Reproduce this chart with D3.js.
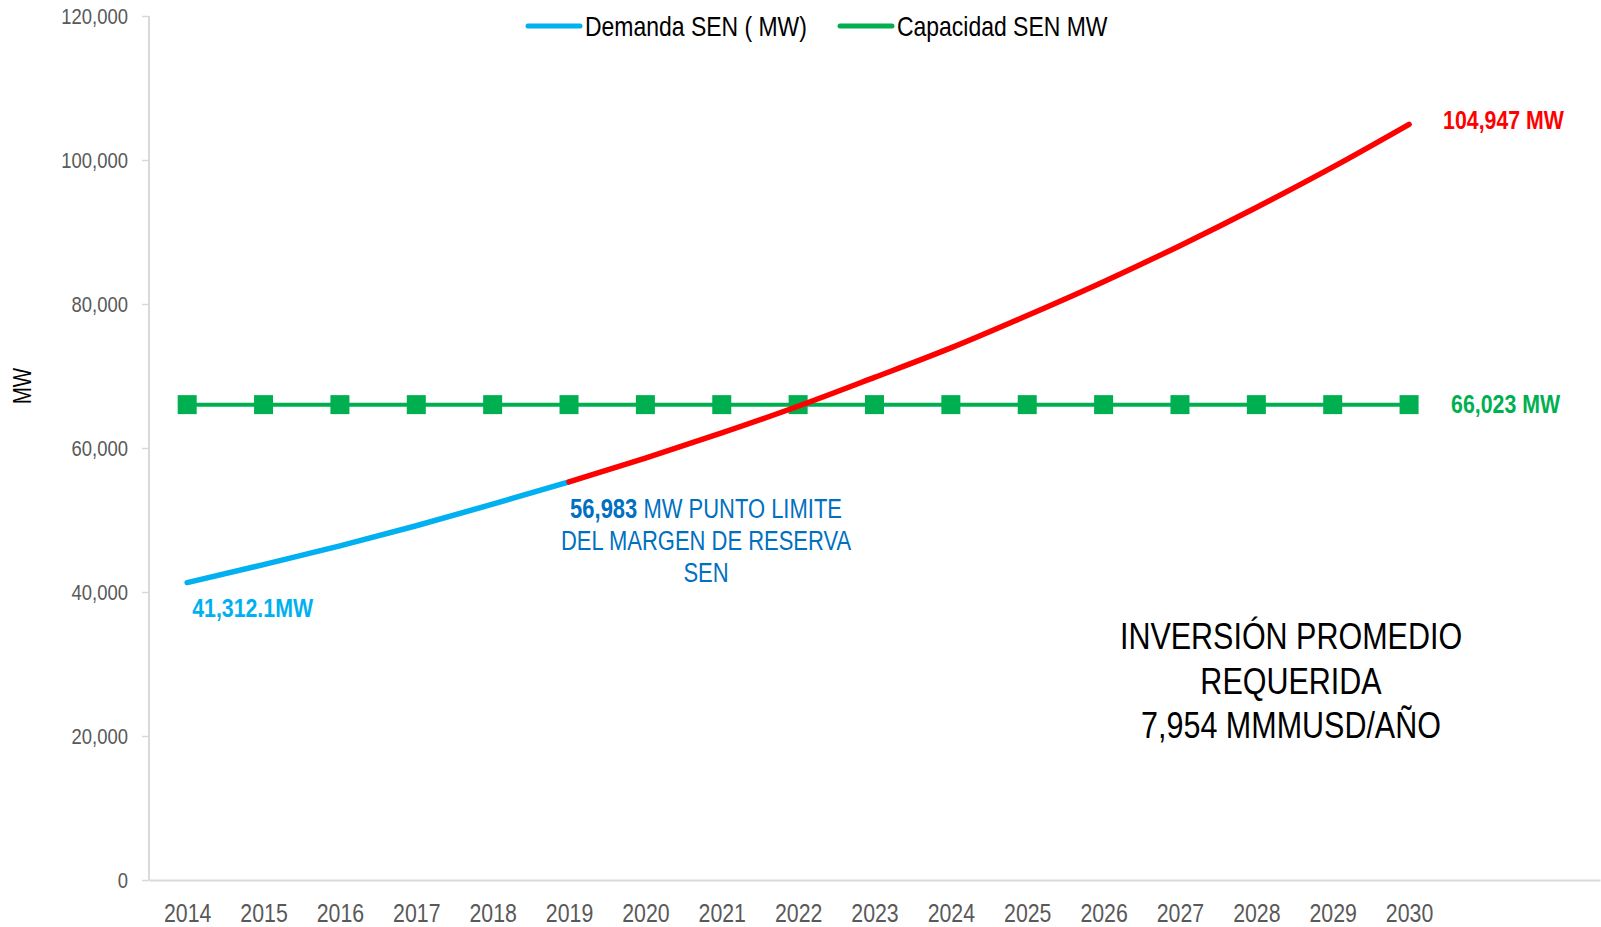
<!DOCTYPE html>
<html>
<head>
<meta charset="utf-8">
<script src="https://cdn.jsdelivr.net/npm/d3@7"></script>
<style>
  body { margin: 0; background: #fff; }
  text { font-family: "Liberation Sans", Arial, sans-serif; }
</style>
</head>
<body>
<div id="my_dataviz"></div>
<script>
// data
var years = [2014, 2015, 2016, 2017, 2018, 2019, 2020, 2021, 2022, 2023, 2024, 2025, 2026, 2027, 2028, 2029, 2030];
var demanda = [41312, 43800, 46400, 49200, 52200, 55300, 58600, 62100, 65800, 69800, 73900, 78400, 83100, 88100, 93400, 99000, 104947];
var capacidad = [66023, 66023, 66023, 66023, 66023, 66023, 66023, 66023, 66023, 66023, 66023, 66023, 66023, 66023, 66023, 66023, 66023];
var limitYear = 2019;
var yTicks = [0, 20000, 40000, 60000, 80000, 100000, 120000];
var seriesNames = ["Demanda SEN ( MW)", "Capacidad SEN MW"];
var noteLines = ["INVERSIÓN PROMEDIO", "REQUERIDA", "7,954 MMMUSD/AÑO"];
var limitLines = ["MW PUNTO LIMITE", "DEL MARGEN DE RESERVA", "SEN"];

// dimensions
var W = 1601, H = 927;
var margin = {top: 16, right: 1, bottom: 47, left: 149};
var NARROW = 0.82; // squeeze Liberation Sans into an Arial Narrow look

var svg = d3.select("#my_dataviz")
  .append("svg")
    .attr("width", W)
    .attr("height", H);

// text drawn at (x,y) and squeezed horizontally
function narrowText(parent, x, y, size, fill, anchor) {
  return parent.append("text")
    .attr("transform", "translate(" + x + "," + y + ") scale(" + NARROW + ",1)")
    .attr("text-anchor", anchor || "start")
    .attr("fill", fill)
    .style("font-size", size + "px");
}

var x = d3.scaleLinear()
  .domain([years[0] - 0.5, years[years.length - 1] + 2.5])
  .range([margin.left, W - margin.right]);

var y = d3.scaleLinear()
  .domain([0, 120000])
  .range([H - margin.bottom, margin.top]);

// Y axis
var yAxis = svg.append("g")
  .attr("transform", "translate(" + margin.left + ",0)")
  .call(d3.axisLeft(y).tickValues(yTicks).tickSize(7).tickPadding(0).tickFormat(d3.format(",")));
yAxis.selectAll("line").attr("stroke", "#d9d9d9").attr("stroke-width", 1.5);
yAxis.select(".domain").attr("stroke", "#d9d9d9").attr("stroke-width", 2).attr("d", "M0," + y(120000) + "V" + y(0));
yAxis.selectAll("text")
  .attr("x", -21 / NARROW)
  .attr("transform", "scale(" + NARROW + ",1)")
  .attr("fill", "#595959").style("font-size", "22.5px");

// X axis
var xAxis = svg.append("g")
  .attr("transform", "translate(0," + y(0) + ")")
  .call(d3.axisBottom(x).tickValues(years).tickSize(0).tickFormat(d3.format("d")));
xAxis.select(".domain").attr("stroke", "#d9d9d9").attr("stroke-width", 2);
xAxis.selectAll("text")
  .attr("y", 42).attr("dy", null)
  .attr("transform", "scale(" + NARROW + ",1)")
  .attr("fill", "#595959").style("font-size", "26px");

// axis title
svg.append("text")
  .attr("transform", "translate(31," + y(60000) / 1 + ") rotate(-90) scale(" + NARROW + ",1)")
  .attr("x", 62 / NARROW).attr("text-anchor", "middle")
  .style("font-size", "25px").attr("fill", "#000")
  .text("MW");

// capacity line + square markers
var line = d3.line()
  .x(function(d) { return x(d.year); })
  .y(function(d) { return y(d.value); })
  .curve(d3.curveMonotoneX);

var capData = years.map(function(yr, i) { return {year: yr, value: capacidad[i]}; });
svg.append("path")
  .datum(capData)
  .attr("fill", "none")
  .attr("stroke", "#00b050")
  .attr("stroke-width", 4)
  .attr("d", line);
svg.selectAll(".marker")
  .data(capData)
  .enter().append("rect")
    .attr("x", function(d) { return x(d.year) - 9.5; })
    .attr("y", function(d) { return y(d.value) - 9.5; })
    .attr("width", 19).attr("height", 19)
    .attr("fill", "#00b050");

// demand line: blue until the limit year, red after
var demData = years.map(function(yr, i) { return {year: yr, value: demanda[i]}; });
svg.append("path")
  .datum(demData.filter(function(d) { return d.year <= limitYear; }))
  .attr("fill", "none").attr("stroke", "#00b0f0").attr("stroke-width", 5.5)
  .attr("stroke-linecap", "round")
  .attr("d", line);
svg.append("path")
  .datum(demData.filter(function(d) { return d.year >= limitYear; }))
  .attr("fill", "none").attr("stroke", "#ff0000").attr("stroke-width", 5.5)
  .attr("stroke-linecap", "round")
  .attr("d", line);

// labels
var first = demData[0], last = demData[demData.length - 1];
var lastCap = capacidad[capacidad.length - 1];
narrowText(svg, x(first.year) + 5, y(first.value) + 34, 26, "#00b0f0")
  .style("font-weight", "bold")
  .text("41,312.1MW");

narrowText(svg, x(last.year) + 34, y(last.value) + 5, 26, "#ff0000")
  .style("font-weight", "bold")
  .text(d3.format(",")(last.value) + " MW");

narrowText(svg, x(last.year) + 42, y(lastCap) + 8, 26, "#00b050")
  .style("font-weight", "bold")
  .text(d3.format(",")(lastCap) + " MW");

var limX = x(limitYear) + 137;
var t1 = narrowText(svg, limX, 518, 26.8, "#0070c0", "middle");
t1.append("tspan").style("font-weight", "bold").text("56,983 ");
t1.append("tspan").text(limitLines[0]);
narrowText(svg, limX, 550, 26.8, "#0070c0", "middle").text(limitLines[1]);
narrowText(svg, limX, 582, 26.8, "#0070c0", "middle").text(limitLines[2]);

// note box
noteLines.forEach(function(d, i) {
  narrowText(svg, 1291, 649 + i * 44.5, 37.2, "#000", "middle").text(d);
});

// legend
var legendColors = ["#00b0f0", "#00b050"];
var legendX = [528, 840];
seriesNames.forEach(function(d, i) {
  svg.append("line")
    .attr("x1", legendX[i]).attr("x2", legendX[i] + 52)
    .attr("y1", 26).attr("y2", 26)
    .attr("stroke", legendColors[i])
    .attr("stroke-width", 5).attr("stroke-linecap", "round");
  narrowText(svg, legendX[i] + 57, 36, 28, "#000").text(d);
});
</script>
</body>
</html>
